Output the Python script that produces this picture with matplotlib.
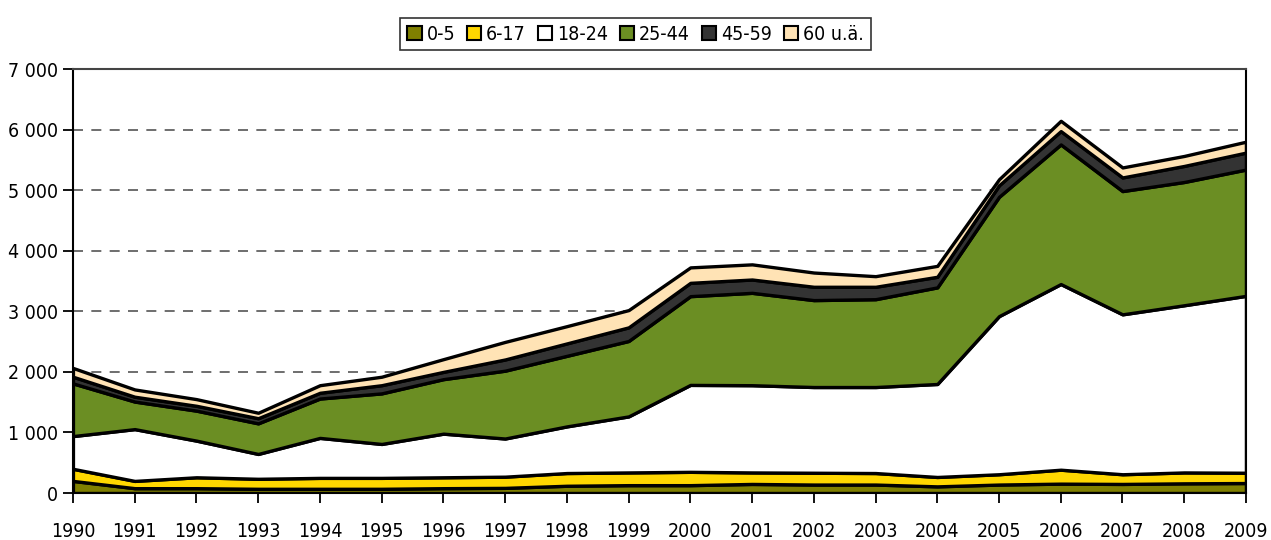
import numpy as np
import matplotlib.pyplot as plt
from matplotlib.ticker import FuncFormatter

plt.rcParams['font.family'] = ['DejaVu Sans']
plt.rcParams['font.stretch'] = 'condensed'

år = list(range(1990, 2010))
alder = ['0-5', '6-17', '18-24', '25-44', '45-59', '60 u.ä.']

a0_5 = [200, 80, 80, 70, 70, 70, 80, 85, 120, 130, 130, 150, 140, 140, 110, 140, 155, 150, 160, 165]
a6_17 = [200, 120, 180, 165, 180, 180, 180, 185, 210, 210, 220, 190, 195, 190, 155, 170, 230, 160, 180, 170]
a18_24 = [540, 855, 605, 410, 660, 560, 720, 630, 770, 925, 1435, 1440, 1415, 1420, 1535, 2610, 3065, 2640, 2760, 2920]
a25_44 = [870, 455, 495, 505, 650, 835, 900, 1120, 1165, 1245, 1465, 1525, 1435, 1450, 1595, 1970, 2305, 2035, 2035, 2085]
a45_59 = [110, 80, 80, 85, 95, 135, 120, 185, 205, 225, 220, 220, 220, 205, 175, 190, 220, 225, 265, 280]
a60 = [145, 120, 110, 90, 125, 140, 210, 290, 285, 285, 255, 250, 235, 175, 180, 100, 170, 165, 165, 180]

farger = ['#808000', '#FFD700', '#FFFFFF', '#6B8E23', '#333333', '#FFE3B5']

fig = plt.figure(figsize=(12.71, 5.4), dpi=100)
ax = fig.add_axes([0.0574, 0.087, 0.9229, 0.7852])

ax.stackplot(år, a0_5, a6_17, a18_24, a25_44, a45_59, a60,
             colors=farger, labels=alder, edgecolor='black', linewidth=2.4)

ax.set_xlim(1990, 2009)
ax.set_ylim(0, 7000)
ax.set_xticks(år)
ax.set_yticks(np.arange(0, 7001, 1000))
ax.yaxis.set_major_formatter(FuncFormatter(lambda v, p: f"{int(v):,}".replace(',', ' ')))

for y in range(1000, 7000, 1000):
    ax.axhline(y, color='#555555', linestyle=(0, (6, 5)), linewidth=1.2, zorder=0)

ax.tick_params(axis='both', direction='out', length=7, width=1.3, labelsize=14, colors='black')
ax.tick_params(axis='x', pad=14)
for s in ax.spines.values():
    s.set_linewidth(1.5)
    s.set_color('black')
ax.spines['top'].set_color('#444444')

leg = fig.legend(loc='upper center', bbox_to_anchor=(0.5, 0.985), ncol=6, fontsize=14,
                 frameon=True, fancybox=False, edgecolor='black',
                 handlelength=0.75, handleheight=0.75, handletextpad=0.25,
                 columnspacing=0.6, borderpad=0.35)
leg.get_frame().set_linewidth(1.2)
for h in leg.legend_handles:
    h.set_edgecolor('black')
    h.set_linewidth(1.5)

fig.savefig('out.png', dpi=100)
